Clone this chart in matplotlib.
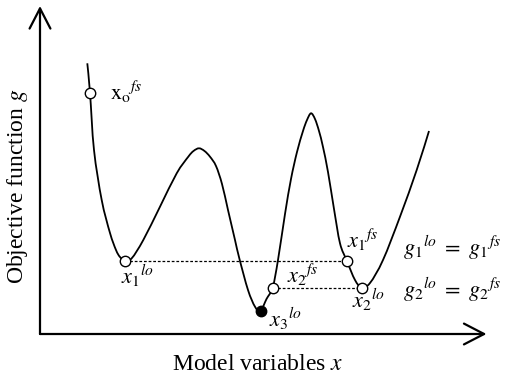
import matplotlib
matplotlib.use("Agg")
import matplotlib.pyplot as plt
from matplotlib.path import Path
from matplotlib.patches import PathPatch
import numpy as np

plt.rcParams['mathtext.fontset'] = 'stix'
plt.rcParams['font.family'] = ['Liberation Serif', 'DejaVu Serif']

# Objective function curve (x: model variable, g: objective)
x_vals = [47.3, 50, 54, 61.7, 70, 76, 80, 85, 91.7, 103.3, 120, 136.7, 148.3, 153.5, 159, 164.5,
          170, 176, 182, 188, 195, 199.3, 208, 215, 220.5, 226.5, 232.7, 238, 245, 251, 257,
          263, 267, 271, 275, 279, 283, 288, 294, 300, 306.7, 315, 321.7, 330, 343, 360,
          376.7, 389]
g_vals = [270.7, 241.3, 184, 134, 101, 84, 77, 73.5, 75.7, 94, 127.3, 160.7, 177.3, 183, 185.7, 183,
          177.3, 168, 150, 124, 94, 75.7, 44, 27.3, 23, 35, 46.5, 74, 120, 155, 182,
          203, 214, 220.7, 215, 203, 187, 162, 125, 90.7, 73.5, 54, 46.5, 51, 74, 117.3,
          164, 203]

# Marked points
open_x = [50, 85, 306.7, 232.7, 321.7]
open_g = [241.3, 73.5, 73.5, 46.5, 46.5]
best_x = [220.5]
best_g = [23]

# Equal-level dashed connectors
g1_level = 73.5
g2_level = 46.5
g1_span = [85, 306.7]
g2_span = [232.7, 321.7]

fig = plt.figure(figsize=(5.11, 3.81), dpi=100)
ax = fig.add_axes([0, 0, 1, 1])
ax.set_xlim(-40, 471)
ax.set_ylim(-47, 334)
ax.axis('off')

# Axes with open arrow heads
arrow = dict(arrowstyle='->,head_length=1.45,head_width=0.75', lw=1.6, color='black',
             shrinkA=0, shrinkB=0)
ax.annotate('', xy=(0, 328), xytext=(0, 0), arrowprops=arrow)
ax.annotate('', xy=(446.5, 0), xytext=(0, 0), arrowprops=arrow)

ax.plot(g1_span, [g1_level, g1_level], ls=(0, (2.2, 1.5)), lw=0.9, color='black', zorder=2)
ax.plot(g2_span, [g2_level, g2_level], ls=(0, (2.2, 1.5)), lw=0.9, color='black', zorder=2)

# Smooth curve through the read points (Catmull-Rom rendered as cubic Bezier path)
P = np.column_stack([x_vals, g_vals])
verts = [tuple(P[0])]
codes = [Path.MOVETO]
n = len(P)
for i in range(n - 1):
    p0 = P[i - 1] if i > 0 else P[i]
    p1 = P[i]
    p2 = P[i + 1]
    p3 = P[i + 2] if i + 2 < n else P[i + 1]
    c1 = p1 + (p2 - p0) / 6.0
    c2 = p2 - (p3 - p1) / 6.0
    verts += [tuple(c1), tuple(c2), tuple(p2)]
    codes += [Path.CURVE4] * 3
ax.add_patch(PathPatch(Path(verts, codes), fill=False, edgecolor='black', lw=1.3, zorder=3))

ax.plot(open_x, open_g, 'o', ms=7.5, mfc='white', mec='black', mew=1.0, zorder=4, ls='none')
ax.plot(best_x, best_g, 'o', ms=7.5, mfc='black', mec='black', mew=1.0, zorder=4, ls='none')

fs = 16
ax.text(70, 242, r'$\mathrm{x_o}^{fs}$', fontsize=fs, ha='left', va='center')
ax.text(81, 58, r'$x_1{}^{lo}$', fontsize=fs, ha='left', va='center')
ax.text(229, 15, r'$x_3{}^{lo}$', fontsize=fs, ha='left', va='center')
ax.text(247, 59, r'$x_2{}^{fs}$', fontsize=fs, ha='left', va='center')
ax.text(312, 34, r'$x_2{}^{lo}$', fontsize=fs, ha='left', va='center')
ax.text(307, 94, r'$x_1{}^{fs}$', fontsize=fs, ha='left', va='center')
ax.text(363, 86, r'$g_1{}^{lo}\ =\ g_1{}^{fs}$', fontsize=fs, ha='left', va='center')
ax.text(363, 44, r'$g_2{}^{lo}\ =\ g_2{}^{fs}$', fontsize=fs, ha='left', va='center')

ax.text(-22, 148, r'Objective function $g$', fontsize=17, rotation=90, ha='center', va='center')
ax.text(218, -30, r'Model variables $x$', fontsize=17, ha='center', va='center')

fig.savefig('out.png', dpi=100)
